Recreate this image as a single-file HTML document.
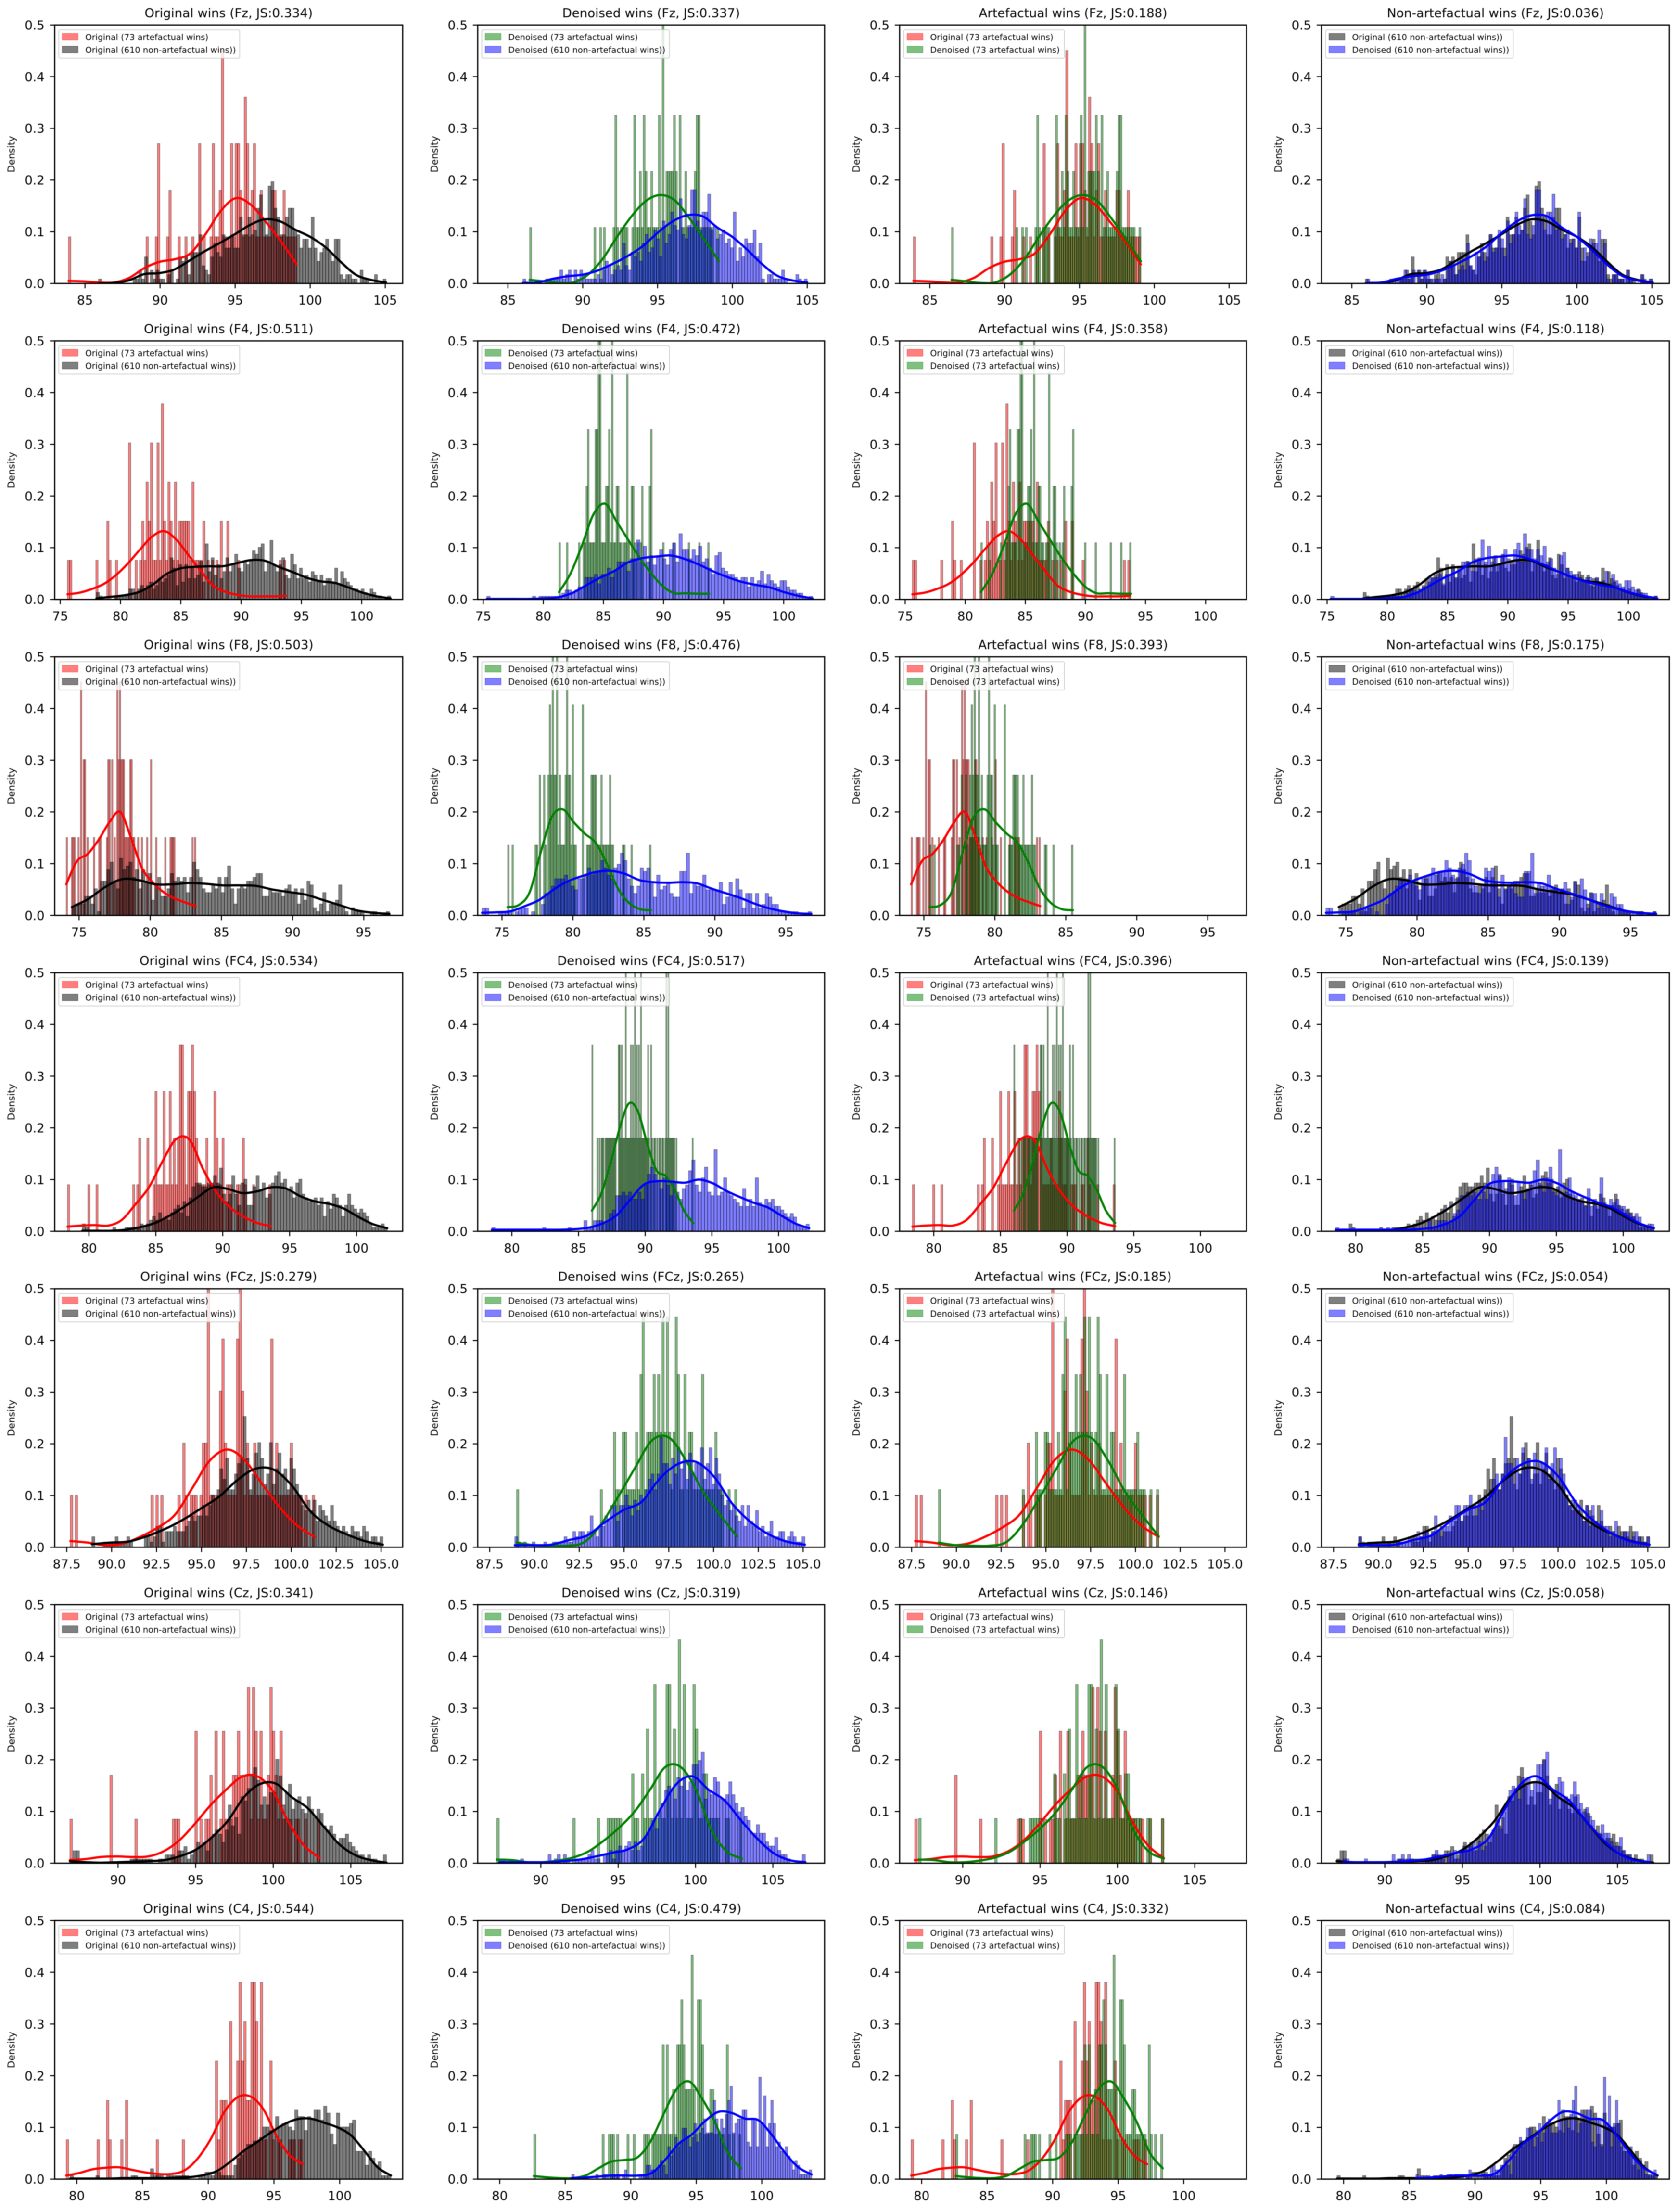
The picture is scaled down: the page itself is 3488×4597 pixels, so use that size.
<!DOCTYPE html>
<html lang="en">
<head>
<meta charset="utf-8">
<title>Original vs denoised artefactual and non-artefactual window distributions</title>
<style>
html,body{margin:0;padding:0;background:#fff;width:3488px;height:4597px;overflow:hidden}
svg{display:block;filter:blur(0.9px)}
text{font-family:"DejaVu Sans","Liberation Sans",sans-serif;fill:#000}
</style>
</head>
<body>
<svg id="figure" xmlns="http://www.w3.org/2000/svg" width="3488" height="4597" viewBox="0 0 3488 4597"></svg>
<script>
const channels=['Fz','F4','F8','FC4','FCz','Cz','C4'];
const jsFz=[0.334,0.337,0.188,0.036];
const jsF4=[0.511,0.472,0.358,0.118];
const jsF8=[0.503,0.476,0.393,0.175];
const jsFC4=[0.534,0.517,0.396,0.139];
const jsFCz=[0.279,0.265,0.185,0.054];
const jsCz=[0.341,0.319,0.146,0.058];
const jsC4=[0.544,0.479,0.332,0.084];
const yTickLabels=['0.0','0.1','0.2','0.3','0.4','0.5'];
const xTicksFz=['85','90','95','100','105'];
const xTicksF4=['75','80','85','90','95','100'];
const xTicksF8=['75','80','85','90','95'];
const xTicksFC4=['80','85','90','95','100'];
const xTicksFCz=['87.5','90.0','92.5','95.0','97.5','100.0','102.5','105.0'];
const xTicksCz=['90','95','100','105'];
const xTicksC4=['80','85','90','95','100'];
const xLimFz=[82.98,106.16];
const xLimF4=[74.54,103.4];
const xLimF8=[73.29,97.73];
const xLimFC4=[77.44,103.45];
const xLimFCz=[86.83,106.2];
const xLimCz=[85.92,108.34];
const xLimC4=[78.32,104.79];

/* ---------- Fz ---------- */
const fzOrigArtRange=[83.9,99.1];
const fzOrigArtCounts=[
1,0,0,0,0,0,0,0,0,0,
0,0,0,0,0,0,0,0,0,0,
0,0,0,0,0,0,0,0,0,0,
0,0,0,0,1,0,0,0,1,3,
0,0,0,1,2,0,0,0,1,0,
0,1,0,0,1,0,0,3,0,1,
0,0,1,3,1,1,2,5,1,1,
1,3,1,3,3,2,1,4,3,1,
2,3,1,1,2,1,1,1,1,2,
2,1,1,1,2,1,1,1,1,1];
const fzOrigArtKde=[.005,.004,.002,.002,.011,.03,.042,.047,.058,.095,.14,.165,.152,.118,.08,.037];
const fzOrigNonRange=[85.9,105.05];
const fzOrigNonCounts=[
1,0,0,0,0,0,0,0,0,0,
0,0,1,1,3,1,6,0,3,1,
3,1,1,0,2,3,0,1,6,5,
6,2,7,7,7,11,4,3,2,6,
9,7,6,11,8,8,11,8,8,15,
11,11,15,11,12,17,20,14,11,22,
23,17,15,11,11,15,17,17,12,11,
8,10,10,8,15,8,5,7,8,10,
7,5,10,10,2,1,2,2,1,1,
0,3,1,1,0,0,2,0,0,1];
const fzOrigNonKde=[0,.001,.006,.018,.02,.027,.044,.062,.078,.095,.113,.124,.12,.104,.09,.07,.042,.017,.007,.002];
const fzDenArtRange=[86.45,99.1];
const fzDenArtCounts=[
1,0,0,0,0,0,0,0,0,0,
0,0,0,0,0,0,0,0,0,0,
0,0,0,0,0,0,0,0,0,0,
0,0,0,0,1,0,0,1,0,1,
0,0,0,0,1,3,1,0,1,1,
1,1,0,0,1,3,1,1,2,1,
3,2,1,1,2,1,1,1,3,1,
5,1,2,2,2,2,3,2,0,3,
1,1,2,1,1,1,1,2,3,3,
1,1,1,1,1,1,1,0,0,1];
const fzDenArtKde=[.007,.004,.001,.002,.017,.047,.09,.13,.16,.171,.16,.125,.085,.043];
const fzDenNonRange=[86,105];
const fzDenNonCounts=[
1,0,0,0,0,0,0,0,1,1,
1,1,1,3,1,2,3,0,3,1,
3,2,1,1,1,1,2,1,3,5,
4,2,3,4,3,9,4,3,7,6,
7,5,9,11,7,8,12,10,6,14,
9,11,16,13,12,19,11,10,13,21,
21,14,12,16,16,20,12,13,10,11,
12,9,10,8,16,5,8,6,10,9,
9,12,6,9,1,0,2,2,1,1,
1,3,1,0,0,0,2,1,0,1];
const fzDenNonKde=[.001,.002,.009,.014,.017,.025,.038,.053,.072,.098,.12,.132,.13,.108,.09,.065,.037,.015,.006,.002];

/* ---------- F4 ---------- */
const f4OrigArtRange=[75.6,93.7];
const f4OrigArtCounts=[
1,1,0,0,0,0,0,0,0,0,
0,0,0,1,0,0,0,0,2,1,
0,0,1,0,0,0,0,0,4,0,
0,1,0,1,2,1,3,2,4,1,
1,4,1,5,2,1,3,2,1,3,
1,2,2,2,2,2,1,3,1,1,
1,1,2,0,1,0,1,0,1,0,
2,0,0,2,0,0,0,0,1,0,
0,0,0,0,0,0,0,0,0,0,
0,0,0,0,0,0,0,1,0,1];
const f4OrigArtKde=[.01,.013,.02,.03,.047,.07,.097,.122,.132,.115,.085,.055,.027,.015,.009,.006,.006,.006,.007];
const f4OrigNonRange=[78,102.4];
const f4OrigNonCounts=[
2,1,0,0,0,0,1,1,1,1,
1,3,3,2,3,4,3,4,5,3,
4,6,5,6,7,12,9,4,10,5,
10,6,9,6,7,11,5,16,8,12,
7,10,6,8,12,8,10,13,9,8,
11,10,11,14,13,15,16,8,11,17,
10,8,10,12,7,6,13,10,6,9,
6,7,5,8,7,5,7,4,6,6,
5,9,4,8,6,5,4,3,3,2,
3,2,1,3,2,1,1,0,0,1];
const f4OrigNonKde=[.002,.005,.008,.014,.028,.049,.06,.063,.064,.064,.07,.076,.075,.063,.053,.042,.035,.032,.023,.013,.006,.002];
const f4DenArtRange=[81.3,93.8];
const f4DenArtCounts=[
1,0,0,0,0,1,0,0,0,0,
0,0,0,1,0,0,1,1,2,3,
1,1,1,1,3,3,5,5,1,1,
1,2,2,3,1,5,1,1,2,2,
1,1,0,1,1,4,1,0,2,2,
1,0,1,0,1,2,0,0,0,0,
2,3,0,0,0,0,0,0,0,1,
0,0,0,0,0,0,1,0,0,0,
0,0,0,0,0,0,1,0,0,0,
0,0,0,1,0,0,0,0,0,1];
const f4DenArtKde=[.014,.05,.105,.165,.185,.15,.115,.08,.05,.025,.012,.012,.011,.011];
const f4DenNonRange=[75.3,102.4];
const f4DenNonCounts=[
1,0,0,0,0,0,0,0,0,0,
0,0,0,0,1,0,1,1,1,1,
1,1,1,2,3,3,2,3,4,4,
7,7,7,8,5,8,8,10,7,9,
12,12,12,9,13,13,19,12,17,12,
14,11,14,16,13,11,16,18,12,21,
16,16,13,16,14,17,12,13,10,8,
14,15,10,9,8,8,7,6,7,7,
4,7,5,6,9,5,8,6,5,4,
6,6,4,3,3,2,2,1,0,1];
const f4DenNonKde=[.001,.001,.001,.001,.002,.004,.012,.027,.042,.055,.072,.08,.083,.085,.078,.067,.054,.043,.034,.028,.023,.014,.007,.002];

/* ---------- F8 ---------- */
const f8OrigArtRange=[74.1,83.2];
const f8OrigArtCounts=[
1,0,0,0,1,1,1,0,0,1,
0,3,0,2,2,0,1,0,0,0,
0,1,0,0,0,1,1,0,0,0,
0,1,2,2,0,2,0,1,0,3,
2,3,2,2,2,1,1,1,1,2,
2,1,1,0,0,1,0,0,1,0,
0,0,1,0,0,2,0,0,0,1,
0,0,0,0,0,0,1,0,0,0,
1,1,1,1,0,0,0,0,0,0,
0,0,0,0,0,0,0,1,0,1];
const f8OrigArtKde=[.06,.105,.119,.146,.18,.2,.15,.092,.064,.045,.033,.025,.018];
const f8OrigNonRange=[74.5,96.8];
const f8OrigNonCounts=[
2,3,3,3,5,5,3,7,1,9,
9,12,14,9,7,15,12,13,14,10,
12,7,12,9,11,4,8,10,5,5,
7,11,9,10,9,10,6,10,14,12,
10,7,6,6,8,7,10,6,10,13,
7,3,7,8,7,9,9,10,11,11,
5,5,7,6,6,6,5,7,8,6,
7,3,7,4,9,8,2,1,3,6,
1,3,3,4,8,2,1,0,2,1,
1,1,0,0,1,1,0,0,0,1];
const f8OrigNonKde=[.016,.032,.055,.07,.068,.06,.06,.0625,.061,.058,.058,.057,.05,.045,.04,.03,.02,.01,.005,.003];
const f8DenArtRange=[75.4,85.5];
const f8DenArtCounts=[
1,0,0,1,0,0,0,0,0,0,
0,0,0,0,0,0,0,0,0,1,
1,0,2,0,0,2,1,0,2,3,
2,5,2,2,5,1,2,1,1,1,
2,5,2,2,1,3,1,1,0,0,
0,0,3,0,0,1,1,1,2,2,
2,2,1,1,1,2,1,1,1,1,
1,2,1,1,0,0,0,0,0,0,
1,1,0,0,0,0,1,0,0,0,
0,0,0,0,0,0,0,0,0,1];
const f8DenArtKde=[.016,.02,.045,.122,.19,.205,.18,.158,.14,.1,.052,.024,.012,.01];
const f8DenNonRange=[73.6,96.8];
const f8DenNonCounts=[
2,2,0,0,0,1,1,1,1,0,
1,2,2,2,0,1,0,0,3,6,
6,8,10,10,10,11,9,8,7,10,
10,11,13,11,12,12,15,13,11,10,
13,14,17,15,10,8,6,8,13,12,
13,9,5,11,7,8,9,6,5,5,
12,12,17,6,9,8,8,11,7,7,
7,7,9,3,5,9,5,10,7,2,
6,6,2,6,2,3,6,5,3,3,
1,1,1,1,1,1,0,0,0,1];
const f8DenNonKde=[.005,.006,.008,.018,.03,.05,.066,.076,.084,.086,.08,.068,.064,.063,.064,.062,.052,.043,.034,.023,.014,.008,.004,.003];

/* ---------- FC4 ---------- */
const fc4OrigArtRange=[78.4,93.6];
const fc4OrigArtCounts=[
1,0,0,0,0,0,0,0,0,0,
1,0,0,0,1,0,0,0,0,0,
0,0,0,0,0,0,0,0,0,0,
0,0,1,0,1,2,0,0,0,2,
0,0,1,3,1,1,1,3,1,1,
3,1,2,1,2,4,4,2,1,3,
3,4,3,2,1,1,1,1,2,1,
1,1,3,2,1,1,2,0,1,1,
1,0,0,1,1,0,2,1,0,0,
0,1,0,0,0,0,0,0,0,1];
const fc4OrigArtKde=[.009,.011,.012,.011,.022,.052,.085,.135,.178,.177,.12,.075,.046,.028,.016,.01];
const fc4OrigNonRange=[79.5,102.3];
const fc4OrigNonCounts=[
2,1,0,0,0,0,0,0,0,0,
1,0,0,0,1,1,1,1,1,2,
1,2,3,4,3,5,3,4,3,5,
6,7,5,8,4,9,12,13,13,12,
12,13,13,15,13,17,10,8,10,15,
10,7,13,14,7,7,12,15,11,13,
9,10,13,15,16,13,14,11,12,9,
13,14,10,9,8,8,9,7,9,4,
8,6,10,9,7,4,7,10,7,6,
5,6,5,4,2,1,1,1,2,1];
const fc4OrigNonKde=[.001,.001,.001,.003,.008,.016,.03,.047,.067,.085,.082,.074,.077,.085,.083,.068,.058,.053,.044,.028,.014,.006];
const fc4DenArtRange=[86,93.6];
const fc4DenArtCounts=[
2,0,0,0,0,1,0,1,0,1,
1,1,0,1,1,1,1,1,1,1,
1,1,1,1,0,0,2,2,1,2,
1,1,1,3,1,1,1,1,2,1,
2,1,3,1,2,1,2,1,3,1,
1,1,1,1,1,2,1,0,2,1,
0,1,1,0,1,0,1,1,0,1,
1,0,1,3,1,3,1,1,1,1,
1,1,0,1,0,0,0,0,0,0,
0,0,0,0,0,0,0,0,0,1];
const fc4DenArtKde=[.04,.072,.13,.198,.247,.232,.17,.118,.107,.08,.04,.016];
const fc4DenNonRange=[78.5,102.3];
const fc4DenNonCounts=[
1,0,0,0,0,0,0,0,0,0,
0,0,0,0,0,0,1,0,0,0,
0,0,0,0,1,0,0,0,0,3,
1,1,3,3,3,2,3,5,6,10,
10,11,10,11,9,9,11,9,13,16,
18,16,14,12,15,13,10,14,11,9,
12,13,17,20,13,11,15,18,11,10,
23,10,11,15,11,10,9,8,7,12,
7,9,7,15,8,7,9,8,9,7,
7,6,5,4,5,4,2,1,1,2];
const fc4DenNonKde=[.003,.003,.003,.003,.003,.003,.004,.007,.015,.03,.06,.09,.097,.096,.094,.1,.093,.078,.066,.055,.046,.03,.015,.006];

/* ---------- FCz ---------- */
const fczOrigArtRange=[87.7,101.3];
const fczOrigArtCounts=[
1,0,1,0,0,0,0,0,0,0,
0,0,0,0,0,0,0,0,0,0,
0,0,0,0,0,0,0,0,0,0,
0,0,0,1,0,1,0,1,0,0,
0,0,0,0,1,0,2,1,0,1,
1,1,0,1,2,2,6,1,1,1,
1,3,4,2,1,1,1,1,4,6,
3,1,2,1,1,2,1,1,1,1,
1,1,4,1,2,1,1,1,1,1,
2,1,1,1,1,0,1,0,0,1];
const fczOrigArtKde=[.012,.009,.004,.007,.02,.038,.063,.115,.168,.189,.168,.122,.077,.042,.02];
const fczOrigNonRange=[88.9,105.1];
const fczOrigNonCounts=[
2,0,0,0,1,1,1,1,2,1,
1,1,2,1,0,0,0,0,2,2,
1,2,4,4,1,3,3,3,4,3,
3,3,4,5,6,5,6,6,8,6,
8,10,9,11,15,13,17,11,11,14,
16,17,25,17,11,14,18,20,17,12,
14,20,12,15,18,14,15,11,17,15,
12,10,8,7,9,7,9,5,8,7,
6,5,8,5,4,3,4,3,2,4,
3,3,2,4,3,1,2,2,1,2];
const fczOrigNonKde=[.006,.009,.011,.021,.035,.053,.075,.098,.13,.152,.15,.119,.07,.042,.025,.012,.005];
const fczDenArtRange=[89,101.3];
const fczDenArtCounts=[
1,0,0,0,0,0,0,0,0,0,
0,0,0,0,0,0,0,0,0,0,
0,0,0,0,0,0,0,0,0,0,
0,0,0,0,0,0,0,0,1,0,
0,0,0,0,2,1,1,0,2,2,
1,1,1,1,2,1,3,4,1,2,
2,2,3,2,3,2,4,2,4,2,
1,2,4,3,1,1,3,1,2,2,
1,1,1,1,3,1,1,1,1,1,
2,1,1,1,0,0,1,0,0,1];
const fczDenArtKde=[.009,.004,.003,.003,.01,.045,.098,.154,.207,.212,.168,.108,.063,.021];
const fczDenNonRange=[88.9,105.1];
const fczDenNonCounts=[
2,1,0,1,0,0,1,0,0,0,
1,0,0,1,1,1,1,2,1,1,
3,2,3,3,2,3,6,3,2,4,
4,6,5,8,8,5,8,8,10,8,
6,9,7,10,9,11,13,14,11,14,
21,16,16,12,17,14,19,15,17,13,
18,14,16,16,19,13,16,19,12,17,
14,10,8,9,7,8,6,5,8,4,
8,5,4,7,3,4,2,3,5,2,
2,3,3,1,2,3,2,1,1,2];
const fczDenNonKde=[.004,.004,.005,.014,.023,.049,.072,.088,.133,.161,.165,.136,.084,.049,.025,.011,.005];

/* ---------- Cz ---------- */
const czOrigArtRange=[86.9,103];
const czOrigArtCounts=[
1,0,0,0,0,0,0,0,0,0,
0,0,0,0,0,0,2,0,0,0,
0,0,0,0,0,0,1,0,0,0,
0,0,0,0,0,0,0,0,0,0,
0,1,1,1,0,0,0,0,0,0,
3,0,1,0,1,1,2,0,3,0,
1,3,1,1,1,2,2,3,2,2,
2,4,1,4,3,1,3,1,1,2,
4,3,2,1,3,1,1,1,1,0,
1,1,0,0,1,0,0,0,0,1];
const czOrigArtKde=[.006,.008,.012,.013,.012,.013,.023,.044,.076,.112,.142,.167,.168,.139,.079,.034,.01];
const czOrigNonRange=[86.9,107.3];
const czOrigNonCounts=[
1,3,3,0,0,0,0,0,0,0,
0,0,0,0,0,0,0,0,0,1,
1,1,1,1,1,1,0,0,1,1,
2,2,2,1,3,3,4,1,2,3,
5,4,5,3,6,7,8,7,5,8,
14,9,11,7,16,15,18,21,23,20,
14,16,14,17,17,25,21,14,17,19,
13,15,16,13,12,16,13,11,13,12,
9,8,9,7,5,6,6,7,5,4,
3,2,2,1,2,1,1,0,0,2];
const czOrigNonKde=[.004,.002,.001,.002,.003,.004,.006,.014,.027,.051,.083,.128,.153,.154,.128,.107,.072,.037,.016,.006,.001];
const czDenArtRange=[87.15,103];
const czDenArtCounts=[
1,0,0,0,0,0,0,0,0,0,
0,0,0,0,0,0,0,0,0,0,
0,0,0,0,0,0,0,0,0,0,
0,1,0,0,0,0,0,0,0,0,
0,1,0,0,0,1,1,1,1,1,
1,0,0,0,0,2,1,1,0,2,
1,3,1,1,4,1,2,1,1,4,
4,1,3,1,5,1,4,1,1,1,
4,3,1,1,2,2,1,1,1,1,
1,0,0,1,1,0,0,0,0,1];
const czDenArtKde=[.007,.006,.002,.002,.005,.011,.023,.044,.069,.1,.142,.186,.186,.142,.065,.023,.009];
const czDenNonRange=[87.3,107.1];
const czDenNonCounts=[
1,1,0,0,0,0,0,1,0,0,
0,0,0,0,0,0,2,0,1,2,
0,2,1,0,0,1,1,1,1,2,
3,1,1,0,2,2,3,1,3,4,
3,4,5,3,5,3,4,6,7,8,
10,8,12,14,17,18,17,15,20,18,
20,17,19,23,23,24,26,15,17,16,
20,19,15,15,16,19,16,14,12,13,
11,10,7,7,9,7,7,5,4,4,
6,3,2,2,1,0,0,0,0,2];
const czDenNonKde=[.002,.002,.002,.002,.004,.007,.013,.02,.027,.048,.104,.153,.168,.142,.121,.083,.048,.02,.006,.002];

/* ---------- C4 ---------- */
const c4OrigArtRange=[79.2,97.2];
const c4OrigArtCounts=[
1,0,0,0,0,0,0,0,0,0,
0,0,0,1,0,0,0,2,1,0,
0,0,0,1,0,2,0,0,0,0,
0,0,0,0,0,0,0,0,1,0,
0,0,0,0,0,0,0,0,0,1,
0,0,0,0,0,0,0,0,0,0,
0,0,0,3,1,2,2,2,0,4,
0,0,3,5,3,4,2,2,5,5,
4,1,5,1,1,0,3,1,0,1,
1,0,0,0,1,1,1,0,1,1];
const c4OrigArtKde=[.007,.012,.019,.022,.023,.018,.013,.01,.01,.017,.04,.078,.129,.158,.16,.135,.083,.046,.029];
const c4OrigNonRange=[79.5,103.9];
const c4OrigNonCounts=[
1,0,0,0,0,0,0,0,1,0,
0,0,0,0,0,0,0,0,0,1,
1,0,0,0,0,3,1,1,1,0,
1,1,1,1,1,1,1,0,0,0,
1,1,2,2,1,2,2,1,1,1,
1,4,6,7,8,10,10,11,11,12,
15,15,14,14,18,15,16,16,15,14,
20,18,18,14,18,17,20,20,17,21,
19,13,10,19,15,15,15,16,17,8,
8,8,4,8,6,4,5,1,1,1];
const c4OrigNonKde=[.001,.001,.001,.001,.002,.002,.002,.002,.003,.004,.008,.016,.034,.055,.072,.09,.106,.116,.117,.109,.1,.085,.055,.023,.007];
const c4DenArtRange=[82.6,98.4];
const c4DenArtCounts=[
1,0,0,0,0,0,0,0,0,0,
0,0,0,0,0,0,0,0,0,0,
0,0,0,0,0,0,0,0,0,0,
0,0,0,1,0,0,1,1,1,0,
1,0,0,0,0,1,0,0,1,0,
0,0,0,1,1,1,0,1,1,1,
1,1,3,1,3,1,1,2,1,3,
3,4,3,2,2,2,5,2,1,4,
4,3,1,1,1,2,2,1,1,1,
1,1,0,3,1,0,1,0,0,1];
const c4DenArtKde=[.006,.0035,.002,.002,.007,.021,.034,.037,.042,.072,.124,.173,.189,.156,.11,.051,.021];
const c4DenNonRange=[85.5,103.8];
const c4DenNonCounts=[
1,0,0,0,0,0,0,0,0,0,
1,0,0,1,1,0,1,1,1,1,
0,1,2,0,0,0,0,0,1,1,
1,3,3,2,2,2,3,4,3,1,
7,5,6,9,7,8,11,11,9,7,
9,12,8,10,11,13,10,10,10,17,
13,10,13,11,14,17,20,10,12,13,
13,15,15,8,7,13,13,7,22,12,
18,7,12,17,12,7,8,6,6,7,
5,4,2,4,3,1,1,1,1,2];
const c4DenNonKde=[.002,.003,.005,.007,.007,.007,.012,.037,.068,.086,.112,.13,.128,.117,.114,.086,.051,.023,.009];

/* ---------- assemble rows ---------- */
function seriesOf(range,counts,kde){return {range:range,counts:counts,kde:kde};}
const rows=[
{ch:channels[0],js:jsFz,ticks:xTicksFz,xlim:xLimFz,
 origArt:seriesOf(fzOrigArtRange,fzOrigArtCounts,fzOrigArtKde),origNon:seriesOf(fzOrigNonRange,fzOrigNonCounts,fzOrigNonKde),
 denArt:seriesOf(fzDenArtRange,fzDenArtCounts,fzDenArtKde),denNon:seriesOf(fzDenNonRange,fzDenNonCounts,fzDenNonKde)},
{ch:channels[1],js:jsF4,ticks:xTicksF4,xlim:xLimF4,
 origArt:seriesOf(f4OrigArtRange,f4OrigArtCounts,f4OrigArtKde),origNon:seriesOf(f4OrigNonRange,f4OrigNonCounts,f4OrigNonKde),
 denArt:seriesOf(f4DenArtRange,f4DenArtCounts,f4DenArtKde),denNon:seriesOf(f4DenNonRange,f4DenNonCounts,f4DenNonKde)},
{ch:channels[2],js:jsF8,ticks:xTicksF8,xlim:xLimF8,
 origArt:seriesOf(f8OrigArtRange,f8OrigArtCounts,f8OrigArtKde),origNon:seriesOf(f8OrigNonRange,f8OrigNonCounts,f8OrigNonKde),
 denArt:seriesOf(f8DenArtRange,f8DenArtCounts,f8DenArtKde),denNon:seriesOf(f8DenNonRange,f8DenNonCounts,f8DenNonKde)},
{ch:channels[3],js:jsFC4,ticks:xTicksFC4,xlim:xLimFC4,
 origArt:seriesOf(fc4OrigArtRange,fc4OrigArtCounts,fc4OrigArtKde),origNon:seriesOf(fc4OrigNonRange,fc4OrigNonCounts,fc4OrigNonKde),
 denArt:seriesOf(fc4DenArtRange,fc4DenArtCounts,fc4DenArtKde),denNon:seriesOf(fc4DenNonRange,fc4DenNonCounts,fc4DenNonKde)},
{ch:channels[4],js:jsFCz,ticks:xTicksFCz,xlim:xLimFCz,
 origArt:seriesOf(fczOrigArtRange,fczOrigArtCounts,fczOrigArtKde),origNon:seriesOf(fczOrigNonRange,fczOrigNonCounts,fczOrigNonKde),
 denArt:seriesOf(fczDenArtRange,fczDenArtCounts,fczDenArtKde),denNon:seriesOf(fczDenNonRange,fczDenNonCounts,fczDenNonKde)},
{ch:channels[5],js:jsCz,ticks:xTicksCz,xlim:xLimCz,
 origArt:seriesOf(czOrigArtRange,czOrigArtCounts,czOrigArtKde),origNon:seriesOf(czOrigNonRange,czOrigNonCounts,czOrigNonKde),
 denArt:seriesOf(czDenArtRange,czDenArtCounts,czDenArtKde),denNon:seriesOf(czDenNonRange,czDenNonCounts,czDenNonKde)},
{ch:channels[6],js:jsC4,ticks:xTicksC4,xlim:xLimC4,
 origArt:seriesOf(c4OrigArtRange,c4OrigArtCounts,c4OrigArtKde),origNon:seriesOf(c4OrigNonRange,c4OrigNonCounts,c4OrigNonKde),
 denArt:seriesOf(c4DenArtRange,c4DenArtCounts,c4DenArtKde),denNon:seriesOf(c4DenNonRange,c4DenNonCounts,c4DenNonKde)}
];

const seriesStyle={
 origArt:{color:'#ff0000',wins:73,label:'Original (73 artefactual wins)'},
 origNon:{color:'#000000',wins:610,label:'Original (610 non-artefactual wins))'},
 denArt:{color:'#008000',wins:73,label:'Denoised (73 artefactual wins)'},
 denNon:{color:'#0000ff',wins:610,label:'Denoised (610 non-artefactual wins))'}
};
const panelKinds=[
 {title:'Original wins',first:'origArt',second:'origNon',left:113.7,right:837,legendW:376},
 {title:'Denoised wins',first:'denArt',second:'denNon',left:993,right:1714,legendW:390},
 {title:'Artefactual wins',first:'origArt',second:'denArt',left:1870,right:2591,legendW:334},
 {title:'Non-artefactual wins',first:'origNon',second:'denNon',left:2747,right:3470,legendW:390}
];
const firstTop=51.8, rowPitch=656.6, axesH=537.3, yMax=0.5;
const NS='http://www.w3.org/2000/svg';
const figure=document.getElementById('figure');

function mk(tag,attrs,parent){
  const el=document.createElementNS(NS,tag);
  for(const k in attrs)el.setAttribute(k,attrs[k]);
  parent.appendChild(el);
  return el;
}
function smoothPath(pts){
  let d='M'+pts[0][0].toFixed(1)+' '+pts[0][1].toFixed(1);
  for(let i=0;i<pts.length-1;i++){
    const p0=pts[Math.max(i-1,0)],p1=pts[i],p2=pts[i+1],p3=pts[Math.min(i+2,pts.length-1)];
    const c1x=p1[0]+(p2[0]-p0[0])/6,c1y=p1[1]+(p2[1]-p0[1])/6;
    const c2x=p2[0]-(p3[0]-p1[0])/6,c2y=p2[1]-(p3[1]-p1[1])/6;
    d+='C'+c1x.toFixed(1)+' '+c1y.toFixed(1)+' '+c2x.toFixed(1)+' '+c2y.toFixed(1)+' '+p2[0].toFixed(1)+' '+p2[1].toFixed(1);
  }
  return d;
}
function drawHist(g,key,s,xs,ys){
  const st=seriesStyle[key];
  const binW=(s.range[1]-s.range[0])/s.counts.length;
  s.counts.forEach(function(c,i){
    if(!c)return;
    const dens=c/(st.wins*binW);
    const x0=xs(s.range[0]+i*binW),x1=xs(s.range[0]+(i+1)*binW);
    const bar=mk('rect',{x:x0.toFixed(2),y:ys(dens).toFixed(2),width:(x1-x0).toFixed(2),height:(ys(0)-ys(dens)).toFixed(2),
      fill:st.color,'fill-opacity':0.5,stroke:'#000','stroke-opacity':0.42,'stroke-width':1.3},g);
    
    
  });
}
function drawKde(g,key,s,xs,ys){
  const n=s.kde.length;
  const pts=s.kde.map(function(v,i){
    return [xs(s.range[0]+(s.range[1]-s.range[0])*i/(n-1)),ys(v)];
  });
  const line=mk('path',{d:smoothPath(pts),fill:'none',stroke:seriesStyle[key].color,'stroke-width':4.6,'stroke-linecap':'round','stroke-linejoin':'round'},g);
  
  
}
function drawLegend(g,kind,left,top){
  const box=mk('g',{},g);
  
  
  const bx=left+8.5;
  const frame=mk('rect',{x:bx,y:top+10.2,width:kind.legendW,height:58.8,rx:3,fill:'#fff','fill-opacity':0.8,stroke:'#ccc','stroke-width':1.6},box);
  
  
  [kind.first,kind.second].forEach(function(key,i){
    const st=seriesStyle[key];
    const sw=mk('rect',{x:bx+7,y:top+17.6+i*26.6,width:33,height:14,fill:st.color,'fill-opacity':0.5,stroke:st.color,'stroke-opacity':0.5,'stroke-width':1},box);
    
    
    const t=mk('text',{x:bx+55,y:top+31.5+i*26.6,'font-size':17.5},box);
    t.textContent=st.label;
    
    
  });
}
rows.forEach(function(row,r){
  const top=firstTop+rowPitch*r, bottom=top+axesH;
  panelKinds.forEach(function(kind,c){
    const left=kind.left,right=kind.right;
    const xs=function(v){return left+(v-row.xlim[0])/(row.xlim[1]-row.xlim[0])*(right-left);};
    const ys=function(v){return bottom-(v/yMax)*axesH;};
    const panel=mk('g',{},figure);
    
    
    const clipId='clip-'+r+'-'+c;
    const clip=mk('clipPath',{id:clipId},panel);
    mk('rect',{x:left,y:top,width:right-left,height:axesH},clip);
    const plot=mk('g',{'clip-path':'url(#'+clipId+')'},panel);
    
    
    drawHist(plot,kind.first,row[kind.first],xs,ys);
    drawHist(plot,kind.second,row[kind.second],xs,ys);
    drawKde(plot,kind.first,row[kind.first],xs,ys);
    drawKde(plot,kind.second,row[kind.second],xs,ys);
    drawLegend(panel,kind,left,top);
    const frame=mk('rect',{x:left,y:top,width:right-left,height:axesH,fill:'none',stroke:'#000','stroke-width':2.6},panel);
    
    
    yTickLabels.forEach(function(lbl){
      const y=ys(parseFloat(lbl));
      const tick=mk('line',{x1:left-10,x2:left,y1:y,y2:y,stroke:'#000','stroke-width':2.2},panel);
      
      
      const t=mk('text',{x:left-21,y:y+9.5,'font-size':26,'text-anchor':'end'},panel);
      t.textContent=lbl;
      
      
    });
    row.ticks.forEach(function(lbl){
      const x=xs(parseFloat(lbl));
      const tick=mk('line',{x1:x,x2:x,y1:bottom,y2:bottom+10,stroke:'#000','stroke-width':2.2},panel);
      
      
      const t=mk('text',{x:x,y:bottom+44,'font-size':26,'text-anchor':'middle'},panel);
      t.textContent=lbl;
      
      
    });
    const yTitle=mk('text',{transform:'translate('+(left-83)+' '+(top+axesH/2)+') rotate(-90)','font-size':20,'text-anchor':'middle'},panel);
    yTitle.textContent='Density';
    
    
    const title=mk('text',{x:(left+right)/2,y:top-16,'font-size':26,'text-anchor':'middle'},panel);
    title.textContent=kind.title+' ('+row.ch+', JS:'+row.js[c].toFixed(3)+')';
    
    
  });
});
</script>
</body>
</html>
